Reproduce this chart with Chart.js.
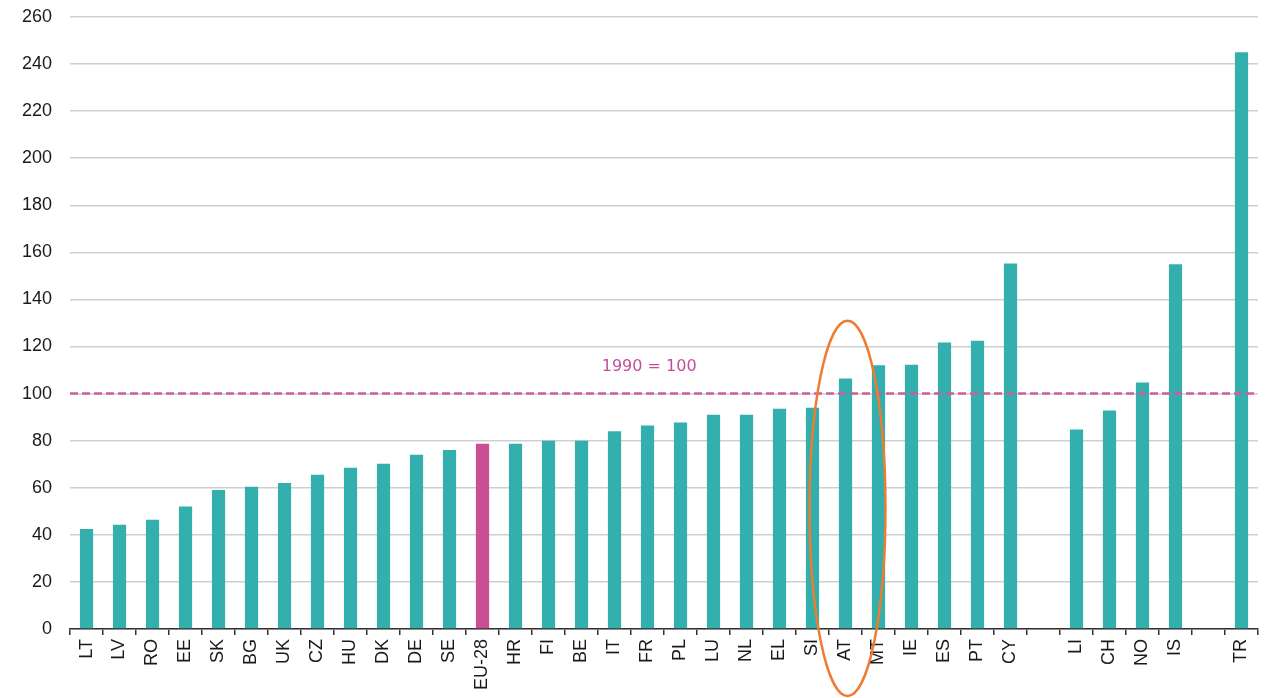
<!DOCTYPE html>
<html>
<head>
<meta charset="utf-8">
<script src="https://cdn.jsdelivr.net/npm/chart.js@4/dist/chart.umd.min.js"></script>
<style>
  html, body { margin: 0; padding: 0; background: #fff; }
  #wrap { width: 1273px; height: 698px; }
</style>
</head>
<body>
<div id="wrap"><canvas id="emissionsChart"></canvas></div>
<script>
// countries, with empty slots as gaps between groups
const countries = ['LT', 'LV', 'RO', 'EE', 'SK', 'BG', 'UK', 'CZ', 'HU', 'DK', 'DE', 'SE', 'EU-28',
  'HR', 'FI', 'BE', 'IT', 'FR', 'PL', 'LU', 'NL', 'EL', 'SI', 'AT', 'MT', 'IE', 'ES', 'PT', 'CY',
  '', 'LI', 'CH', 'NO', 'IS', '', 'TR'];
const indexValues = [42.5, 44.3, 46.4, 52, 59, 60.4, 62, 65.5, 68.5, 70.2, 74, 76, 78.7,
  78.7, 80, 80, 84, 86.4, 87.7, 91, 91, 93.6, 94, 106.4, 112, 112.3, 121.7, 122.5, 155.3,
  null, 84.7, 92.8, 104.7, 155, null, 245];
const yTicks = [0, 20, 40, 60, 80, 100, 120, 140, 160, 180, 200, 220, 240, 260];
const baseYear = 100;
const baseLabel = '1990 = 100';
const highlighted = 'EU-28';
const circled = 'AT';

const teal = '#33b0ad';
const magenta = '#c94f94';

const barColors = countries.map(c => c === highlighted ? magenta : teal);

// dashed 1990 reference line, its label, and the orange ellipse round AT
const annotations = {
  id: 'annotations',
  afterDatasetsDraw(chart) {
    const { ctx, chartArea, scales: { x, y } } = chart;
    const yLine = y.getPixelForValue(baseYear);
    ctx.save();
    ctx.strokeStyle = '#d05ca0';
    ctx.lineWidth = 2.5;
    ctx.setLineDash([8, 4]);
    ctx.beginPath();
    ctx.moveTo(chartArea.left, yLine);
    ctx.lineTo(chartArea.right, yLine);
    ctx.stroke();
    ctx.setLineDash([]);

    ctx.fillStyle = '#c0509a';
    ctx.font = '16px "DejaVu Sans", Verdana, sans-serif';
    ctx.textAlign = 'center';
    ctx.textBaseline = 'middle';
    ctx.fillText(baseLabel, x.getPixelForValue(17.05), y.getPixelForValue(111.5));
    ctx.restore();
  },
  afterDraw(chart) {
    const { ctx, scales: { x, y } } = chart;
    const i = countries.indexOf(circled);
    const cx = x.getPixelForValue(i) + 2;
    const rx = (x.getPixelForValue(i + 1) - x.getPixelForValue(i)) * 1.15;
    const top = y.getPixelForValue(131);
    const bottom = y.getPixelForValue(-28.5);
    ctx.save();
    ctx.strokeStyle = '#ed7d31';
    ctx.lineWidth = 2.5;
    ctx.beginPath();
    ctx.ellipse(cx, (top + bottom) / 2, rx, (bottom - top) / 2, 0, 0, Math.PI * 2);
    ctx.stroke();
    ctx.restore();
  }
};

new Chart(document.getElementById('emissionsChart'), {
  type: 'bar',
  data: {
    labels: countries,
    datasets: [{
      data: indexValues,
      backgroundColor: barColors,
      barPercentage: 0.4,
      categoryPercentage: 1.0
    }]
  },
  options: {
    responsive: true,
    maintainAspectRatio: false,
    animation: false,
    layout: { padding: { top: 0, right: 15, left: 4, bottom: 4 } },
    plugins: {
      legend: { display: false },
      tooltip: { enabled: false }
    },
    scales: {
      x: {
        grid: {
          offset: true,
          drawOnChartArea: false,
          drawTicks: true,
          tickLength: 6,
          color: '#333',
          lineWidth: 1.5
        },
        border: { color: '#333', width: 1.5 },
        ticks: {
          autoSkip: false,
          minRotation: 90,
          maxRotation: 90,
          padding: 4,
          color: '#1a1a1a',
          font: { family: '"Liberation Sans", Arial, sans-serif', size: 18 }
        }
      },
      y: {
        min: 0,
        max: 260,
        afterBuildTicks(axis) { axis.ticks = yTicks.map(v => ({ value: v })); },
        afterFit(axis) { axis.paddingTop = 17; axis.paddingBottom = 0; },
        grid: { color: '#cfcfcf', lineWidth: 1.5, drawTicks: false },
        border: { display: false },
        ticks: {
          padding: 18,
          color: '#1a1a1a',
          font: { family: '"Liberation Sans", Arial, sans-serif', size: 18 }
        }
      }
    }
  },
  plugins: [annotations]
});
</script>
</body>
</html>
